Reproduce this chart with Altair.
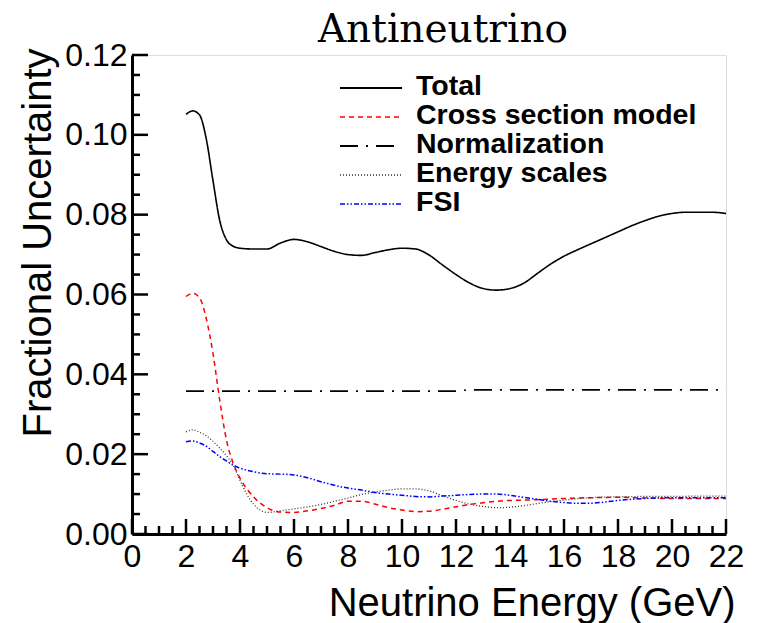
import altair as alt
import pandas as pd

# Fractional uncertainty on the antineutrino flux, by source
total_e = [2.0, 2.25, 2.5, 2.75, 3.0, 3.25, 3.5, 3.75, 4.0, 4.5, 5.0, 5.5, 6.0, 6.5, 7.0, 7.5,
           8.0, 8.5, 9.0, 9.5, 10.0, 10.5, 11.0, 11.5, 12.0, 12.5, 13.0, 13.5, 14.0, 14.5,
           15.0, 15.5, 16.0, 16.5, 17.0, 17.5, 18.0, 18.5, 19.0, 19.5, 20.0, 20.5, 21.0,
           21.5, 22.0]
total_v = [0.1051, 0.1060, 0.1050, 0.0990, 0.0885, 0.0785, 0.0737, 0.0721, 0.0716, 0.0714,
           0.0714, 0.0729, 0.0738, 0.0732, 0.0720, 0.0708, 0.0700, 0.0698, 0.0705, 0.0712,
           0.0716, 0.0714, 0.0699, 0.0674, 0.0650, 0.0629, 0.0615, 0.0611, 0.0615, 0.0628,
           0.0652, 0.0676, 0.0696, 0.0712, 0.0727, 0.0742, 0.0757, 0.0772, 0.0785, 0.0796,
           0.0803, 0.0806, 0.0806, 0.0806, 0.0803]

xsec_e = [2.0, 2.25, 2.5, 2.75, 3.0, 3.25, 3.5, 3.75, 4.0, 4.5, 5.0, 5.5, 6.0, 6.5, 7.0, 7.5,
          8.0, 8.5, 9.0, 9.5, 10.0, 10.5, 11.0, 11.5, 12.0, 12.5, 13.0, 13.5, 14.0, 14.5,
          15.0, 16.0, 17.0, 18.0, 19.0, 20.0, 21.0, 22.0]
xsec_v = [0.0595, 0.0603, 0.0592, 0.0540, 0.0452, 0.0335, 0.0235, 0.0177, 0.0140, 0.0093,
          0.0066, 0.0055, 0.0054, 0.0058, 0.0064, 0.0072, 0.0082, 0.0082, 0.0075, 0.0066,
          0.0060, 0.0056, 0.0057, 0.0062, 0.0068, 0.0074, 0.0078, 0.0082, 0.0084, 0.0085,
          0.0086, 0.0089, 0.0091, 0.0092, 0.0090, 0.0089, 0.0089, 0.0089]

norm_e = [2.0, 12.0, 12.4, 22.0]
norm_v = [0.0358, 0.0358, 0.0361, 0.0361]

escale_e = [2.0, 2.25, 2.5, 2.75, 3.0, 3.25, 3.5, 3.75, 4.0, 4.25, 4.5, 4.75, 5.0, 5.5, 6.0,
            6.5, 7.0, 7.5, 8.0, 8.5, 9.0, 9.5, 10.0, 10.5, 11.0, 11.5, 12.0, 12.5, 13.0,
            13.5, 14.0, 14.5, 15.0, 15.5, 16.0, 17.0, 18.0, 19.0, 20.0, 21.0, 22.0]
escale_v = [0.0256, 0.0261, 0.0255, 0.0246, 0.0232, 0.0215, 0.0196, 0.0172, 0.0135, 0.0100,
            0.0075, 0.0060, 0.0054, 0.0058, 0.0063, 0.0068, 0.0074, 0.0082, 0.0090, 0.0099,
            0.0105, 0.0110, 0.0113, 0.0113, 0.0108, 0.0096, 0.0084, 0.0075, 0.0069, 0.0066,
            0.0067, 0.0071, 0.0076, 0.0081, 0.0085, 0.0091, 0.0093, 0.0094, 0.0094, 0.0095,
            0.0095]

fsi_e = [2.0, 2.25, 2.5, 2.75, 3.0, 3.25, 3.5, 3.75, 4.0, 4.5, 5.0, 5.5, 6.0, 6.5, 7.0, 7.5,
         8.0, 8.5, 9.0, 9.5, 10.0, 10.5, 11.0, 11.5, 12.0, 12.5, 13.0, 13.5, 14.0, 14.5,
         15.0, 15.5, 16.0, 16.5, 17.0, 17.5, 18.0, 19.0, 20.0, 21.0, 22.0]
fsi_v = [0.0231, 0.0233, 0.0228, 0.0220, 0.0207, 0.0194, 0.0183, 0.0172, 0.0165, 0.0156,
         0.0151, 0.0150, 0.0148, 0.0141, 0.0131, 0.0122, 0.0115, 0.0110, 0.0104, 0.0100,
         0.0097, 0.0094, 0.0093, 0.0095, 0.0097, 0.0099, 0.0100, 0.0100, 0.0097, 0.0092,
         0.0087, 0.0082, 0.0079, 0.0077, 0.0077, 0.0080, 0.0084, 0.0089, 0.0091, 0.0091,
         0.0091]

series_names = ["Total", "Cross section model", "Normalization", "Energy scales", "FSI"]
series_data = [(total_e, total_v), (xsec_e, xsec_v), (norm_e, norm_v),
               (escale_e, escale_v), (fsi_e, fsi_v)]
series_colors = ["#000000", "#ff0000", "#000000", "#333333", "#0000ff"]
series_dashes = [[1, 0], [5, 4], [18, 8, 2, 8], [1, 2], [5, 2, 1.5, 2, 1.5, 2]]
series_widths = [1.6, 1.5, 1.6, 1.3, 1.5]
series_interp = ["monotone", "monotone", "linear", "monotone", "monotone"]

x_major = [0, 2, 4, 6, 8, 10, 12, 14, 16, 18, 20, 22]
x_minor = [m + f for m in range(0, 22, 2) for f in (0.5, 1.0, 1.5)]
y_major = [0.0, 0.02, 0.04, 0.06, 0.08, 0.10, 0.12]
y_minor = [round(m + f, 3) for m in y_major[:-1] for f in (0.005, 0.01, 0.015)]

W, H = 594, 479
SANS = "Liberation Sans"

xscale = alt.Scale(domain=[0, 22], nice=False, zero=False)
yscale = alt.Scale(domain=[0, 0.12], nice=False)

xaxis = alt.Axis(values=x_major, format="d", ticks=False, grid=False,
                 domainWidth=3, domainColor="black", labelFont=SANS, labelFontSize=32,
                 labelColor="black", labelPadding=7, labelFlush=False, labelOverlap=False,
                 title="Neutrino Energy (GeV)", titleFont=SANS, titleFontSize=40,
                 titleFontWeight="normal", titleColor="black", titleAlign="right",
                 titleAnchor="end", titleBaseline="alphabetic", titleX=603, titleY=81)
yaxis = alt.Axis(values=y_major, format=".2f", ticks=False, grid=False,
                 domainWidth=3, domainColor="black", labelFont=SANS, labelFontSize=32,
                 labelColor="black", labelPadding=5, labelFlush=False, labelOverlap=False,
                 title="Fractional Uncertainty", titleFont=SANS, titleFontSize=40,
                 titleFontWeight="normal", titleColor="black", titleAngle=270,
                 titleAlign="right", titleAnchor="end", titleBaseline="alphabetic",
                 titleX=-82, titleY=-7)

X = alt.X("energy:Q", scale=xscale, axis=xaxis)
Y = alt.Y("unc:Q", scale=yscale, axis=yaxis)

layers = []

# curves
for name, (e, v), c, d, w, ip in zip(series_names, series_data, series_colors,
                                      series_dashes, series_widths, series_interp):
    df = pd.DataFrame({"energy": e, "unc": v})
    layers.append(
        alt.Chart(df).mark_line(color=c, strokeWidth=w, strokeDash=d, interpolate=ip)
        .encode(x=X, y=Y)
    )

# inward-pointing axis ticks
for vals, size in ((x_major, 15), (x_minor, 8)):
    layers.append(
        alt.Chart(pd.DataFrame({"energy": vals})).mark_rule(color="black", strokeWidth=2.5)
        .encode(x=X, y=alt.value(H), y2=alt.value(H - size))
    )
for vals, size in ((y_major, 16), (y_minor, 8)):
    layers.append(
        alt.Chart(pd.DataFrame({"unc": vals})).mark_rule(color="black", strokeWidth=2.5)
        .encode(y=Y, x=alt.value(0), x2=alt.value(size))
    )

# legend
for i, (name, c, d, w) in enumerate(zip(series_names, series_colors, series_dashes,
                                        series_widths)):
    base = 40 + 29 * i
    lab = pd.DataFrame({"label": [name]})
    layers.append(
        alt.Chart(lab).mark_rule(color=c, strokeWidth=w + 0.2, strokeDash=d)
        .encode(x=alt.value(208), x2=alt.value(270), y=alt.value(base - 7))
    )
    layers.append(
        alt.Chart(lab).mark_text(align="left", baseline="alphabetic", font=SANS,
                                 fontSize=28.5, fontWeight="bold", color="black")
        .encode(x=alt.value(284), y=alt.value(base), text="label:N")
    )

# heading
layers.append(
    alt.Chart(pd.DataFrame({"label": ["Antineutrino"]}))
    .mark_text(align="center", baseline="alphabetic", font="DejaVu Serif",
               fontSize=39, color="black")
    .encode(x=alt.value(311), y=alt.value(-13), text="label:N")
)

chart = (
    alt.layer(*layers)
    .properties(width=W, height=H,
                padding={"left": 132, "top": 55, "right": 33, "bottom": 89},
                autosize=alt.AutoSizeParams(type="none"))
    .configure_view(stroke="black", strokeWidth=1.5)
    .configure(background="white")
)

chart.save("out.html", embed_options={"renderer": "svg", "actions": False})
